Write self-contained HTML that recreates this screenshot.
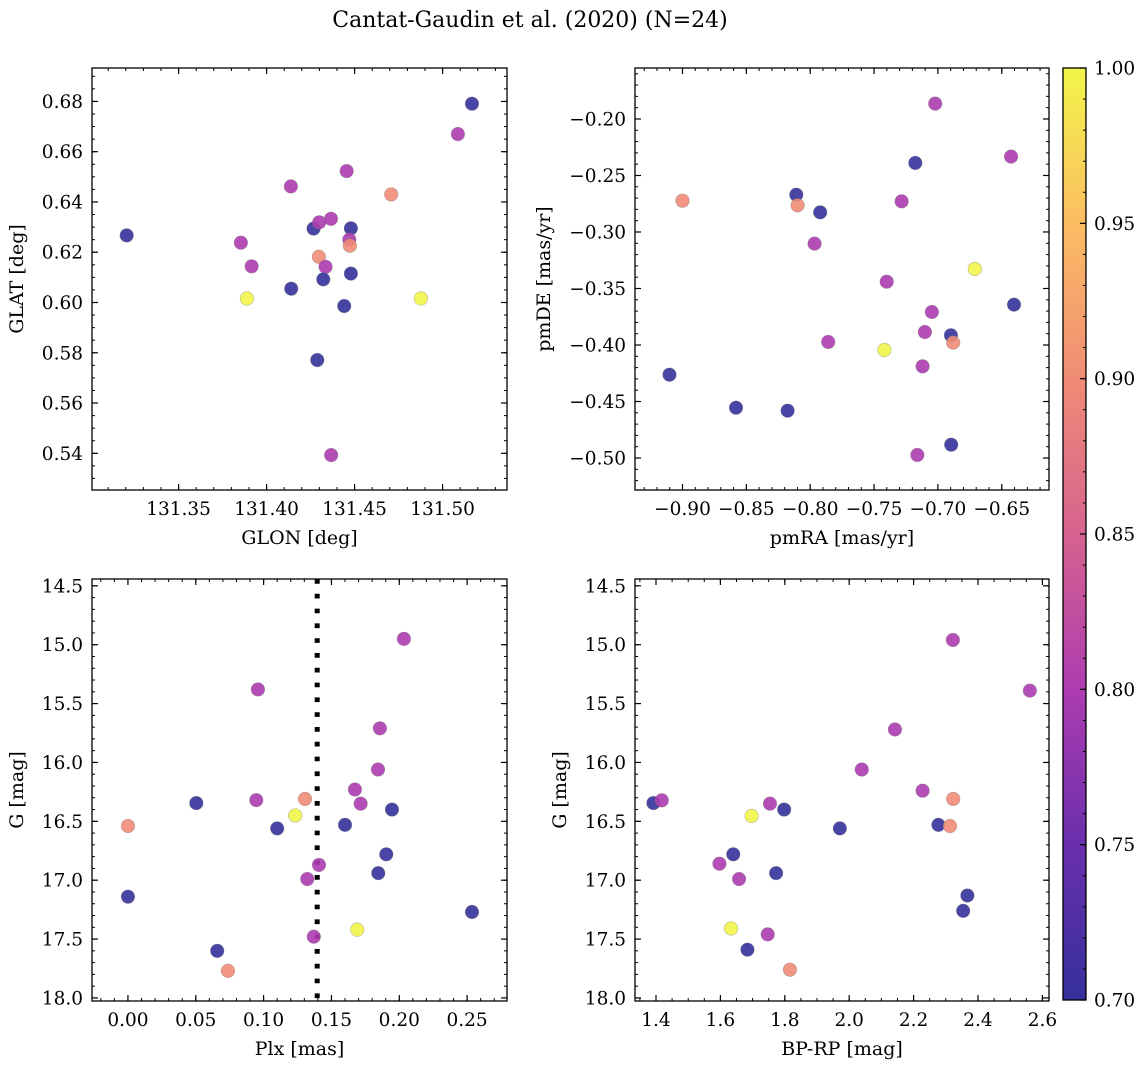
<!DOCTYPE html>
<html><head><meta charset="utf-8"><style>
html,body{margin:0;padding:0;background:#fff;}
svg{display:block;font-family:"DejaVu Serif","Liberation Serif",serif;}
</style></head><body>
<svg id="fig" width="1148" height="1068" viewBox="0 0 1148 1068" xmlns="http://www.w3.org/2000/svg">
<defs>
<linearGradient id="cmap" x1="0" y1="1" x2="0" y2="0">
<stop offset="0" stop-color="#35319a"/><stop offset="0.1667" stop-color="#6a2fac"/>
<stop offset="0.3333" stop-color="#ad3cb0"/><stop offset="0.5" stop-color="#d6638f"/>
<stop offset="0.6667" stop-color="#f08c75"/><stop offset="0.8333" stop-color="#fbbd62"/>
<stop offset="1" stop-color="#f2f549"/></linearGradient>
</defs>
<text x="530" y="27" font-size="22" text-anchor="middle">Cantat-Gaudin et al. (2020) (N=24)</text>
</svg>
<script>
// ---- Data (colour value c: 0.7..1.0) ----
const glon = [131.3205,131.3854,131.3915,131.3888,131.414,131.4138,131.4267,131.4299,131.4366,131.4297,131.4335,131.4322,131.4288,131.4455,131.4479,131.447,131.4473,131.4479,131.4441,131.4367,131.4708,131.4877,131.5087,131.5167];
const glat = [0.6267,0.6238,0.6144,0.6016,0.6055,0.6462,0.6294,0.6319,0.6333,0.6182,0.6142,0.6092,0.5771,0.6523,0.6295,0.625,0.6226,0.6115,0.5986,0.5393,0.643,0.6016,0.667,0.6791];
const c1 = [0.7,0.8,0.8,1.0,0.7,0.8,0.7,0.8,0.8,0.9,0.8,0.7,0.7,0.8,0.7,0.8,0.9,0.7,0.7,0.8,0.9,1.0,0.8,0.7];

const pmra = [-0.900,-0.9102,-0.8581,-0.8177,-0.8109,-0.8099,-0.7922,-0.7966,-0.7859,-0.7401,-0.7419,-0.7284,-0.7177,-0.7021,-0.7161,-0.7102,-0.7047,-0.712,-0.6898,-0.688,-0.6896,-0.6711,-0.6427,-0.6404];
const pmde = [-0.2723,-0.4263,-0.4555,-0.4581,-0.267,-0.2764,-0.2826,-0.3103,-0.3973,-0.344,-0.4044,-0.2729,-0.2389,-0.1864,-0.4973,-0.3885,-0.3708,-0.4189,-0.3914,-0.3979,-0.4882,-0.3327,-0.2333,-0.3643];
const c2 = [0.9,0.7,0.7,0.7,0.7,0.9,0.7,0.8,0.8,0.8,1.0,0.8,0.7,0.8,0.8,0.8,0.8,0.8,0.7,0.9,0.7,1.0,0.8,0.7];

const plx = [0.000,0.000,0.0504,0.0658,0.0737,0.0958,0.0946,0.110,0.1233,0.1305,0.1322,0.137,0.1408,0.160,0.1673,0.1715,0.169,0.1843,0.1857,0.1845,0.1904,0.1946,0.2034,0.2536];
const gmag3 = [16.54,17.14,16.345,17.60,17.77,15.38,16.32,16.56,16.45,16.31,16.99,17.48,16.87,16.53,16.23,16.35,17.42,16.06,15.71,16.94,16.78,16.40,14.95,17.27];
const c3 = [0.9,0.7,0.7,0.7,0.9,0.8,0.8,0.7,1.0,0.9,0.8,0.8,0.8,0.7,0.8,0.8,1.0,0.8,0.8,0.7,0.7,0.7,0.8,0.7];
const plxLine = 0.1395;

const bprp = [1.392,1.418,1.697,1.754,1.798,1.971,2.039,2.228,2.323,2.277,2.313,1.640,1.597,1.658,1.773,2.367,2.354,1.633,1.747,1.684,1.816,2.322,2.561,2.142];
const gmag4 = [16.345,16.322,16.454,16.35,16.40,16.56,16.06,16.24,16.31,16.53,16.54,16.78,16.86,16.99,16.94,17.13,17.26,17.41,17.46,17.59,17.76,14.96,15.39,15.72];
const c4 = [0.7,0.8,1.0,0.8,0.7,0.7,0.8,0.8,0.9,0.7,0.9,0.7,0.8,0.8,0.7,0.7,0.7,1.0,0.8,0.7,0.9,0.8,0.8,0.8];

const p1xTicks = ["131.35","131.40","131.45","131.50"];
const p1yTicks = ["0.54","0.56","0.58","0.60","0.62","0.64","0.66","0.68"];
const p2xTicks = ["−0.90","−0.85","−0.80","−0.75","−0.70","−0.65"];
const p2yTicks = ["−0.50","−0.45","−0.40","−0.35","−0.30","−0.25","−0.20"];
const p3xTicks = ["0.00","0.05","0.10","0.15","0.20","0.25"];
const gTicks = ["14.5","15.0","15.5","16.0","16.5","17.0","17.5","18.0"];
const p4xTicks = ["1.4","1.6","1.8","2.0","2.2","2.4","2.6"];
const cbTicks = ["0.70","0.75","0.80","0.85","0.90","0.95","1.00"];

const NS = "http://www.w3.org/2000/svg";
const svg = document.getElementById("fig");
function mk(tag, attrs, parent){ const e=document.createElementNS(NS,tag); for(const k in attrs) e.setAttribute(k,attrs[k]); (parent||svg).appendChild(e); return e; }
function num(s){ return parseFloat(s.replace("−","-")); }

const stops=[[0.70,[53,49,154]],[0.75,[106,47,172]],[0.80,[173,60,176]],[0.85,[214,99,143]],[0.90,[240,140,117]],[0.95,[251,189,98]],[1.00,[242,245,73]]];
function cmap(v){ v=Math.max(0.7,Math.min(1,v)); for(let i=0;i<stops.length-1;i++){ const a=stops[i],b=stops[i+1]; if(v<=b[0]){ const t=(v-a[0])/(b[0]-a[0]); const c=a[1].map((x,j)=>Math.round(x+(b[1][j]-x)*t)); return `rgb(${c[0]},${c[1]},${c[2]})`; } } return "rgb(242,245,73)"; }

const TF=18.5, LF=19;
function panel(cfg){
  const g = mk("g",{});
  
  
  const {x0,y0,w,h,xmin,xmax,ymin,ymax,invY}=cfg;
  const sx=v=>x0+(v-xmin)/(xmax-xmin)*w;
  const sy=v=> invY ? y0+(v-ymin)/(ymax-ymin)*h : y0+h-(v-ymin)/(ymax-ymin)*h;
  for(let v=Math.ceil(xmin/cfg.xminor-1e-9)*cfg.xminor; v<=xmax+1e-9; v+=cfg.xminor){ const X=sx(v);
    mk("line",{x1:X,x2:X,y1:y0+h,y2:y0+h-3,stroke:"#000","stroke-width":1},g); mk("line",{x1:X,x2:X,y1:y0,y2:y0+3,stroke:"#000","stroke-width":1},g);}
  for(let v=Math.ceil(ymin/cfg.yminor-1e-9)*cfg.yminor; v<=ymax+1e-9; v+=cfg.yminor){ const Y=sy(v);
    mk("line",{x1:x0,x2:x0+3,y1:Y,y2:Y,stroke:"#000","stroke-width":1},g); mk("line",{x1:x0+w,x2:x0+w-3,y1:Y,y2:Y,stroke:"#000","stroke-width":1},g);}
  cfg.xt.forEach(s=>{ const X=sx(num(s));
    mk("line",{x1:X,x2:X,y1:y0+h,y2:y0+h-6,stroke:"#000","stroke-width":1.2},g); mk("line",{x1:X,x2:X,y1:y0,y2:y0+6,stroke:"#000","stroke-width":1.2},g);
    const t=mk("text",{x:X,y:y0+h+25,"font-size":TF,"text-anchor":"middle"},g); t.textContent=s;
    
     });
  cfg.yt.forEach(s=>{ const Y=sy(num(s));
    mk("line",{x1:x0,x2:x0+6,y1:Y,y2:Y,stroke:"#000","stroke-width":1.2},g); mk("line",{x1:x0+w,x2:x0+w-6,y1:Y,y2:Y,stroke:"#000","stroke-width":1.2},g);
    const t=mk("text",{x:x0-9,y:Y+6.5,"font-size":TF,"text-anchor":"end"},g); t.textContent=s;
    
     });
  if(cfg.vline!==undefined){ const X=sx(cfg.vline);
    const l=mk("line",{x1:X,x2:X,y1:y0,y2:y0+h,stroke:"#000","stroke-width":5,"stroke-dasharray":"4.7 10.1"},g);
    
     }
  cfg.xs.forEach((xv,i)=>{ const c=mk("circle",{cx:sx(xv),cy:sy(cfg.ys[i]),r:6.8,fill:cmap(cfg.cs[i]),"fill-opacity":0.9,stroke:"#777","stroke-opacity":0.5,"stroke-width":0.6},g);
    
     });
  const fr=mk("rect",{x:x0,y:y0,width:w,height:h,fill:"none",stroke:"#000","stroke-width":1.3},g);
  
  
  const xl=mk("text",{x:x0+w/2,y:y0+h+54,"font-size":LF,"text-anchor":"middle"},g); xl.textContent=cfg.xlabel;
  
  
  const yl=mk("text",{x:cfg.ylx,y:y0+h/2,"font-size":LF,"text-anchor":"middle",transform:`rotate(-90 ${cfg.ylx} ${y0+h/2})`},g); yl.textContent=cfg.ylabel;
  
  
}

panel({name:"panel-glon-glat",x0:92,y0:68,w:415,h:422,xmin:131.3008,xmax:131.5366,ymin:0.5254,ymax:0.6933,xminor:0.01,yminor:0.005,xt:p1xTicks,yt:p1yTicks,xs:glon,ys:glat,cs:c1,xlabel:"GLON [deg]",ylabel:"GLAT [deg]",ylx:23});
panel({name:"panel-pmra-pmde",x0:635,y0:68,w:414,h:422,xmin:-0.9372,xmax:-0.613,ymin:-0.5283,ymax:-0.1549,xminor:0.01,yminor:0.01,xt:p2xTicks,yt:p2yTicks,xs:pmra,ys:pmde,cs:c2,xlabel:"pmRA [mas/yr]",ylabel:"pmDE [mas/yr]",ylx:550});
panel({name:"panel-plx-g",x0:92,y0:579,w:415,h:422,xmin:-0.0265,xmax:0.2794,ymin:14.442,ymax:18.026,invY:true,xminor:0.01,yminor:0.1,xt:p3xTicks,yt:gTicks,xs:plx,ys:gmag3,cs:c3,xlabel:"Plx [mas]",ylabel:"G [mag]",ylx:23,vline:plxLine});
panel({name:"panel-color-magnitude",x0:635,y0:579,w:414,h:422,xmin:1.3348,xmax:2.6205,ymin:14.442,ymax:18.026,invY:true,xminor:0.05,yminor:0.1,xt:p4xTicks,yt:gTicks,xs:bprp,ys:gmag4,cs:c4,xlabel:"BP-RP [mag]",ylabel:"G [mag]",ylx:566});

const cb=mk("g",{});


const cbx=1063, cby=68, cbw=23, cbh=932;
mk("rect",{x:cbx,y:cby,width:cbw,height:cbh,fill:"url(#cmap)"},cb);
const cy=v=>cby+cbh-(v-0.7)/0.3*cbh;
for(let v=0.70; v<=1.0001; v+=0.01){ mk("line",{x1:cbx+cbw,x2:cbx+cbw-3,y1:cy(v),y2:cy(v),stroke:"#000","stroke-width":1},cb); }
cbTicks.forEach(s=>{ const Y=cy(num(s)); mk("line",{x1:cbx+cbw,x2:cbx+cbw-6,y1:Y,y2:Y,stroke:"#000","stroke-width":1.2},cb);
  const t=mk("text",{x:cbx+cbw+8,y:Y+6.5,"font-size":TF},cb); t.textContent=s;
  
   });
mk("rect",{x:cbx,y:cby,width:cbw,height:cbh,fill:"none",stroke:"#000","stroke-width":1.3},cb);
</script>
</body></html>
